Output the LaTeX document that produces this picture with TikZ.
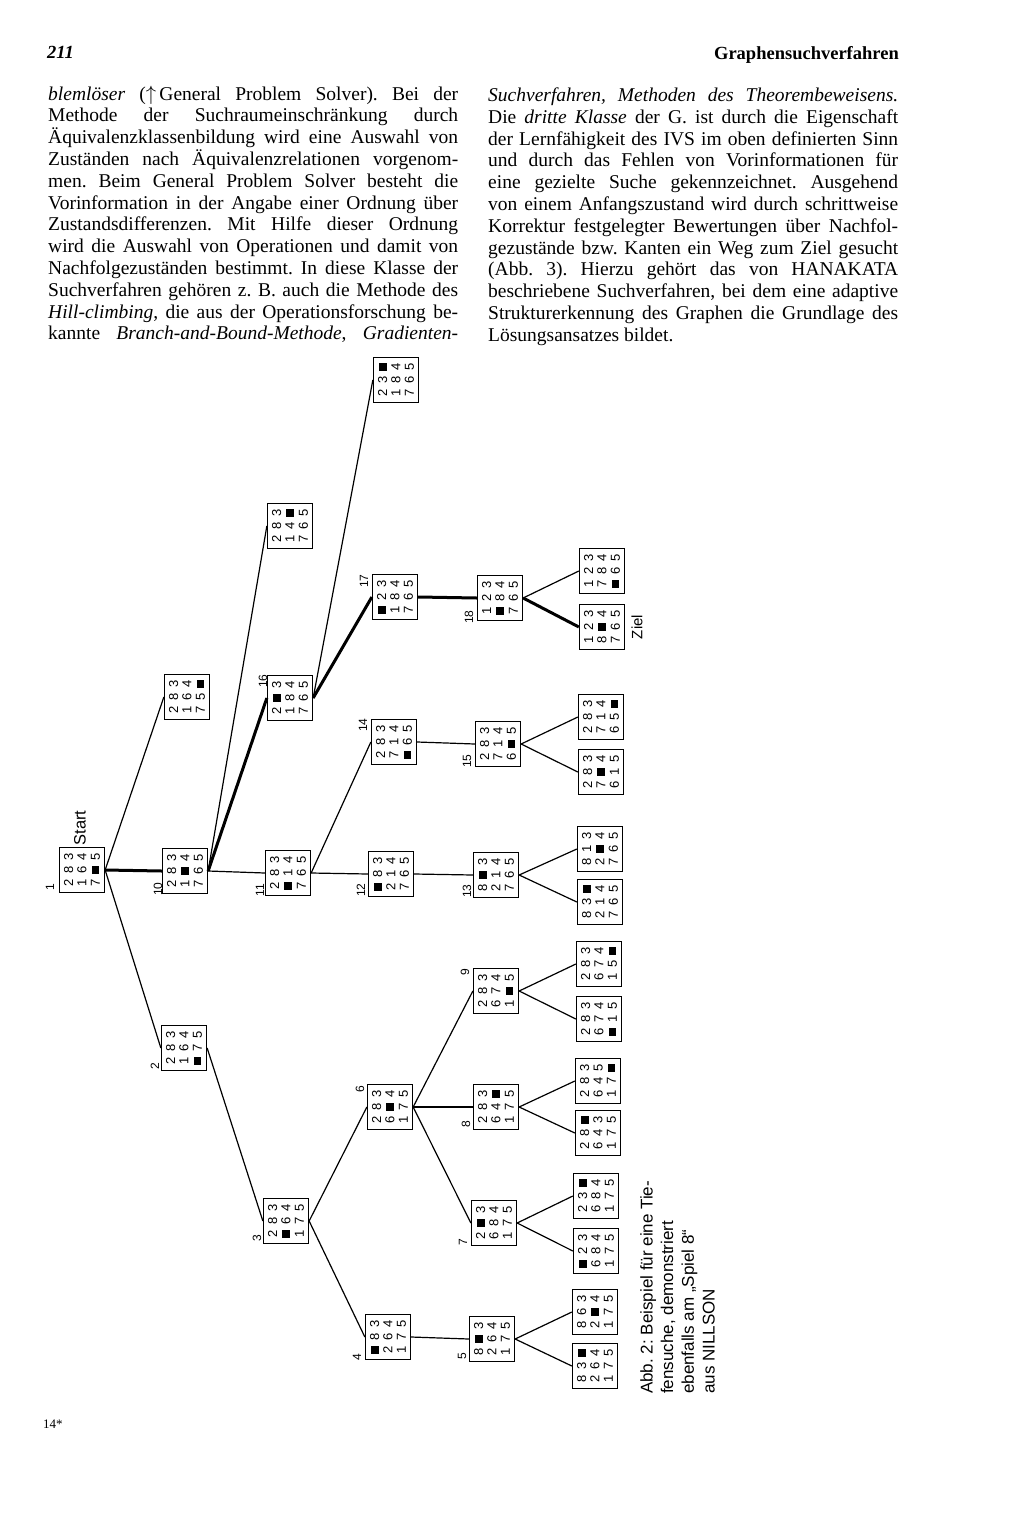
\documentclass[tikz,border=0pt]{standalone}
\usepackage{fontspec}
\usepackage{graphicx}
\setmainfont{Liberation Serif}
\newfontfamily\sansf{Liberation Sans}
\frenchspacing
\newcommand{\blk}{\raisebox{0.5pt}{\rule{7.5pt}{7.5pt}}}
\newcommand{\prow}[3]{\hbox{\makebox[13pt]{#1}\makebox[13pt]{#2}\makebox[13pt]{#3}}}
\newcommand{\pz}[9]{\rotatebox{90}{\vbox{\baselineskip=13.3pt\prow{#1}{#2}{#3}\prow{#4}{#5}{#6}\prow{#7}{#8}{#9}}}}
\newcommand{\fullline}[1]{\makebox[410pt][s]{#1}}
\begin{document}
\begin{tikzpicture}[x=1pt,y=-1pt,
    puz/.style={draw,line width=1.3pt,minimum size=45pt,inner sep=0pt,
      font=\sansf\fontsize{13}{13}\selectfont},
    num/.style={rotate=90,inner sep=0pt,font=\sansf\fontsize{12}{12}\selectfont},
    link/.style={line width=1.2pt},
    win/.style={line width=3pt},
    body/.style={anchor=base west,text width=410pt,align=justify,inner sep=0pt,
      font=\fontsize{19.5}{21.8}\selectfont}]
  \fill[white] (0,0) rectangle (1024,1521);
  \useasboundingbox (0,0) rectangle (1024,1521);

  \node[anchor=base west,inner sep=0pt,font=\bfseries\itshape\fontsize{18.5}{18}\selectfont]
    (page) at (47,58) {211};
  \node[anchor=base east,inner sep=0pt,font=\bfseries\fontsize{18.5}{18}\selectfont]
    (head) at (899,59) {Graphensuchverfahren};

  \node[body] (colL) at (48,100) {
    \textit{blemlöser} ($\uparrow$\,General Problem Solver). Bei der\linebreak
    Methode der Suchraumeinschränkung durch\linebreak
    Äquivalenzklassenbildung wird eine Auswahl von\linebreak
    Zuständen nach Äquivalenzrelationen vorgenom-\linebreak
    men. Beim General Problem Solver besteht die\linebreak
    Vorinformation in der Angabe einer Ordnung über\linebreak
    Zustandsdifferenzen. Mit Hilfe dieser Ordnung\linebreak
    wird die Auswahl von Operationen und damit von\linebreak
    Nachfolgezuständen bestimmt. In diese Klasse der\linebreak
    Suchverfahren gehören z.~B. auch die Methode des\linebreak
    \textit{Hill-climbing}, die aus der Operationsforschung be-\linebreak
    \fullline{kannte \textit{Branch-and-Bound-Methode}, \textit{Gradienten-}}};
  \node[body] (colR) at (488,101.5) {
    \textit{Suchverfahren, Methoden des Theorembeweisens.}\linebreak
    Die \textit{dritte Klasse} der G. ist durch die Eigenschaft\linebreak
    der Lernfähigkeit des IVS im oben definierten Sinn\linebreak
    und durch das Fehlen von Vorinformationen für\linebreak
    eine gezielte Suche gekennzeichnet. Ausgehend\linebreak
    von einem Anfangszustand wird durch schrittweise\linebreak
    Korrektur festgelegter Bewertungen über Nachfol-\linebreak
    gezustände bzw. Kanten ein Weg zum Ziel gesucht\linebreak
    (Abb.~3). Hierzu gehört das von HANAKATA\linebreak
    beschriebene Suchverfahren, bei dem eine adaptive\linebreak
    Strukturerkennung des Graphen die Grundlage des\linebreak
    Lösungsansatzes bildet.};

  \node[puz] (s1) at (82,870) {\pz{2}{8}{3}{1}{6}{4}{7}{\blk}{5}};
  \node[puz] (s1a) at (187,697) {\pz{2}{8}{3}{1}{6}{4}{7}{5}{\blk}};
  \node[puz] (s10) at (185,871) {\pz{2}{8}{3}{1}{\blk}{4}{7}{6}{5}};
  \node[puz] (s2) at (184,1048) {\pz{2}{8}{3}{1}{6}{4}{\blk}{7}{5}};
  \node[puz] (s10a) at (290,526) {\pz{2}{8}{3}{1}{4}{\blk}{7}{6}{5}};
  \node[puz] (s16) at (290,698) {\pz{2}{\blk}{3}{1}{8}{4}{7}{6}{5}};
  \node[puz] (s11) at (288,873) {\pz{2}{8}{3}{\blk}{1}{4}{7}{6}{5}};
  \node[puz] (s16a) at (396,380) {\pz{2}{3}{\blk}{1}{8}{4}{7}{6}{5}};
  \node[puz] (s17) at (395,597) {\pz{\blk}{2}{3}{1}{8}{4}{7}{6}{5}};
  \node[puz] (s18) at (500,598) {\pz{1}{2}{3}{\blk}{8}{4}{7}{6}{5}};
  \node[puz] (s18a) at (602,571) {\pz{1}{2}{3}{7}{8}{4}{\blk}{6}{5}};
  \node[puz] (ziel) at (602,627) {\pz{1}{2}{3}{8}{\blk}{4}{7}{6}{5}};
  \node[puz] (s14) at (394,742) {\pz{2}{8}{3}{7}{1}{4}{\blk}{6}{5}};
  \node[puz] (s15) at (498,744) {\pz{2}{8}{3}{7}{1}{4}{6}{\blk}{5}};
  \node[puz] (s15a) at (601,717) {\pz{2}{8}{3}{7}{1}{4}{6}{5}{\blk}};
  \node[puz] (s15b) at (601,772) {\pz{2}{8}{3}{7}{\blk}{4}{6}{1}{5}};
  \node[puz] (s12) at (391,874) {\pz{\blk}{8}{3}{2}{1}{4}{7}{6}{5}};
  \node[puz] (s13) at (496,875) {\pz{8}{\blk}{3}{2}{1}{4}{7}{6}{5}};
  \node[puz] (s13a) at (600,849) {\pz{8}{1}{3}{2}{\blk}{4}{7}{6}{5}};
  \node[puz] (s13b) at (600,902) {\pz{8}{3}{\blk}{2}{1}{4}{7}{6}{5}};
  \node[puz] (s3) at (286,1221) {\pz{2}{8}{3}{\blk}{6}{4}{1}{7}{5}};
  \node[puz] (s6) at (390,1107) {\pz{2}{8}{3}{6}{\blk}{4}{1}{7}{5}};
  \node[puz] (s9) at (496,991) {\pz{2}{8}{3}{6}{7}{4}{1}{\blk}{5}};
  \node[puz] (s9a) at (599,964) {\pz{2}{8}{3}{6}{7}{4}{1}{5}{\blk}};
  \node[puz] (s9b) at (599,1019) {\pz{2}{8}{3}{6}{7}{4}{\blk}{1}{5}};
  \node[puz] (s8) at (496,1107) {\pz{2}{8}{3}{6}{4}{\blk}{1}{7}{5}};
  \node[puz] (s8a) at (598,1081) {\pz{2}{8}{3}{6}{4}{5}{1}{7}{\blk}};
  \node[puz] (s8b) at (598,1133) {\pz{2}{8}{\blk}{6}{4}{3}{1}{7}{5}};
  \node[puz] (s7) at (494,1223) {\pz{2}{\blk}{3}{6}{8}{4}{1}{7}{5}};
  \node[puz] (s7a) at (596,1196) {\pz{2}{3}{\blk}{6}{8}{4}{1}{7}{5}};
  \node[puz] (s7b) at (596,1251) {\pz{\blk}{2}{3}{6}{8}{4}{1}{7}{5}};
  \node[puz] (s4) at (388,1337) {\pz{\blk}{8}{3}{2}{6}{4}{1}{7}{5}};
  \node[puz] (s5) at (492,1339) {\pz{8}{\blk}{3}{2}{6}{4}{1}{7}{5}};
  \node[puz] (s5a) at (595,1312) {\pz{8}{6}{3}{2}{\blk}{4}{1}{7}{5}};
  \node[puz] (s5b) at (595,1366) {\pz{8}{3}{\blk}{2}{6}{4}{1}{7}{5}};

  \foreach \a/\b in {s1/s1a,s1/s2,s10/s10a,s10/s11,s16/s16a,s18/s18a,
      s11/s14,s11/s12,s14/s15,s15/s15a,s15/s15b,s12/s13,s13/s13a,s13/s13b,
      s2/s3,s3/s6,s3/s4,s6/s9,s6/s8,s6/s7,s9/s9a,s9/s9b,s8/s8a,s8/s8b,
      s7/s7a,s7/s7b,s4/s5,s5/s5a,s5/s5b}
    \draw[link] (\a.east) -- (\b.west);
  \draw[win] (s1.east) -- (s10.west) (s10.east) -- (s16.west)
    (s16.east) -- (s17.west) (s17.east) -- (s18.west) (s18.east) -- (ziel.west);

  \node[num] (l1) at (50,887) {1};
  \node[num] (l2) at (155,1066) {2};
  \node[num] (l3) at (257,1238) {3};
  \node[num] (l4) at (357,1357) {4};
  \node[num] (l5) at (462,1356) {5};
  \node[num] (l6) at (360,1089) {6};
  \node[num] (l7) at (463,1242) {7};
  \node[num] (l8) at (466,1124) {8};
  \node[num] (l9) at (465,972) {9};
  \node[num] (l10) at (158,889) {10};
  \node[num] (l11) at (260,890) {11};
  \node[num] (l12) at (361,890) {12};
  \node[num] (l13) at (467,891) {13};
  \node[num] (l14) at (363,725) {14};
  \node[num] (l15) at (467,761) {15};
  \node[num] (l16) at (263,681) {16};
  \node[num] (l17) at (364,581) {17};
  \node[num] (l18) at (469,617) {18};
  \node[num,font=\sansf\fontsize{16.5}{16.5}\selectfont] (start) at (80,828) {Start};
  \node[num,font=\sansf\fontsize{15}{15}\selectfont] (zlab) at (637,627) {Ziel};

  \node[rotate=90,anchor=north west,inner sep=0pt,align=left,
    font=\sansf\fontsize{17}{20.7}\selectfont] (cap) at (640,1394)
    {Abb.~2: Beispiel für eine Tie-\\fensuche, demonstriert\\ebenfalls am „Spiel 8“\\aus NILLSON};

  \node[anchor=base west,inner sep=0pt,font=\fontsize{13}{13}\selectfont] (foot) at (43,1428) {14*};
\end{tikzpicture}
\end{document}
